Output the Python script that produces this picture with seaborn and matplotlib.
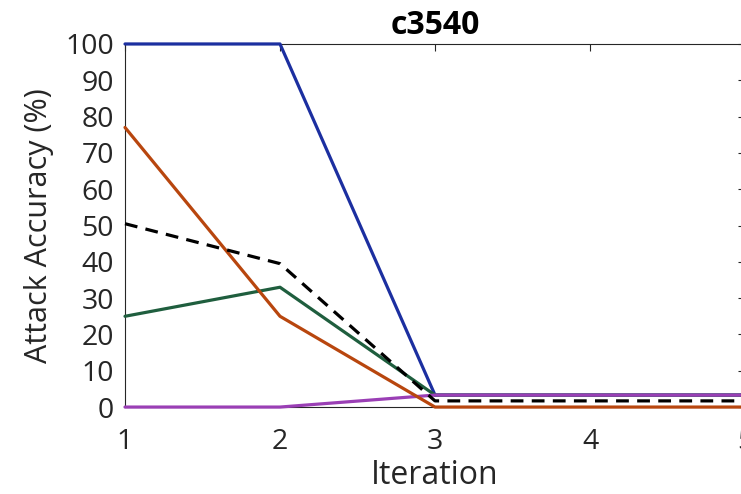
import numpy as np
import pandas as pd
import matplotlib
matplotlib.use("Agg")
import matplotlib.pyplot as plt
import seaborn as sns

# values (c3540)
iterations = [1, 2, 3, 4, 5]
blue_vals = [100, 100, 3.3, 3.3, 3.3]
green_vals = [25, 33, 3.3, 3.3, 3.3]
orange_vals = [77, 25, 0, 0, 0]
purple_vals = [0, 0, 3.3, 3.3, 3.3]
mean_vals = [50.5, 39.5, 1.7, 1.7, 1.7]

sns.set_theme(style="white")
plt.rcParams['font.family'] = ['Open Sans', 'DejaVu Sans']

fig = plt.figure(figsize=(7.41, 4.94), dpi=100)
ax = fig.add_axes([0.1687, 0.176, 0.8367, 0.735])

lw = 2.3
sns.lineplot(x=iterations, y=blue_vals, color="#1c2fa0", lw=lw, ax=ax)
sns.lineplot(x=iterations, y=green_vals, color="#1f5e3e", lw=lw, ax=ax)
sns.lineplot(x=iterations, y=purple_vals, color="#9a3fb5", lw=lw, ax=ax)
sns.lineplot(x=iterations, y=orange_vals, color="#b8460e", lw=lw, ax=ax)
sns.lineplot(x=iterations, y=mean_vals, color="black", lw=lw, ax=ax,
             linestyle=(0, (4, 2.6)))
# let lines at 0 and 100 sit on top of the box
for ln in ax.lines:
    ln.set_clip_on(False)
    ln.set_zorder(3)

ax.set_xlim(1, 5)
ax.set_ylim(0, 100)
ax.set_xticks(iterations)
ax.set_yticks(np.arange(0, 101, 10))
ax.tick_params(axis="both", direction="in", top=True, right=True,
               length=5, width=0.8, color="#262626", labelsize=20.5,
               labelcolor="#262626")
ax.tick_params(axis="x", pad=15)
ax.tick_params(axis="y", pad=8)
for s in ax.spines.values():
    s.set_color("#262626")
    s.set_linewidth(0.8)

ax.set_xlabel("Iteration", fontsize=23, color="#262626", labelpad=2)
ax.set_ylabel("Attack Accuracy (%)", fontsize=22, color="#262626", labelpad=8)
ax.set_title("c3540", fontsize=23, fontweight="bold", color="black", pad=7)

fig.savefig("out.png", dpi=100)
